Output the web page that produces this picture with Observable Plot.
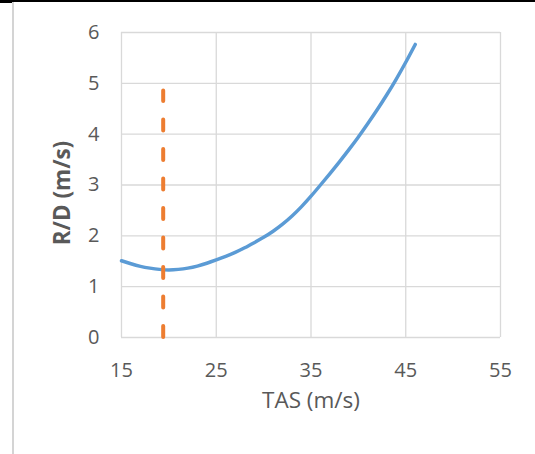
<!DOCTYPE html>
<html>
<head>
<meta charset="utf-8">
<script src="https://cdn.jsdelivr.net/npm/d3@7"></script>
<script src="https://cdn.jsdelivr.net/npm/@observablehq/plot@0.6"></script>
<style>
  html, body { margin: 0; padding: 0; background: #fff; }
  #wrap { position: relative; width: 535px; height: 454px; overflow: hidden; }
  #topline { position: absolute; left: 0; top: 0; width: 535px; height: 2px; background: #000; }
  #topcorner { position: absolute; left: 0; top: 0; width: 12px; height: 3px; background: #000; }
  #leftline { position: absolute; left: 12px; top: 2px; width: 2px; height: 452px; background: #d4d4d4; }
  #chart { position: absolute; left: 0; top: 0; }
</style>
</head>
<body>
<div id="wrap">
  <div id="chart"></div>
  <div id="topline"></div>
  <div id="topcorner"></div>
  <div id="leftline"></div>
</div>
<script>
// True airspeed (m/s) and rate of descent (m/s)
const tas = [15, 16, 17, 18, 19, 20, 21, 22, 23, 24, 25, 26, 27, 28, 29, 30,
             31, 32, 33, 34, 35, 36, 37, 38, 39, 40, 41, 42, 43, 44, 45, 46];
const rd  = [1.51, 1.45, 1.40, 1.365, 1.34, 1.33, 1.34, 1.365, 1.405, 1.46, 1.525, 1.595, 1.675, 1.765, 1.865, 1.97,
             2.09, 2.23, 2.39, 2.575, 2.78, 3.00, 3.225, 3.455, 3.695, 3.945, 4.21, 4.485, 4.775, 5.085, 5.415, 5.765];
// Minimum-sink speed marker
const markerTAS = [19.4];
const markerTop = [4.85];
const xTicks = [15, 25, 35, 45, 55];
const yTicks = [0, 1, 2, 3, 4, 5, 6];
const xLabel = "TAS (m/s)";
const yLabel = "R/D (m/s)";

const data = tas.map((v, i) => ({tas: v, rd: rd[i]}));
const marker = markerTAS.map((v, i) => ({tas: v, top: markerTop[i]}));

const textColor = "#595959";
const gridColor = "#d9d9d9";

const chart = Plot.plot({
  width: 535,
  height: 454,
  marginLeft: 121,
  marginRight: 35,
  marginTop: 32,
  marginBottom: 117,
  style: {fontFamily: "'Open Sans', sans-serif", background: "transparent", overflow: "visible"},
  x: {domain: [15, 55], ticks: xTicks},
  y: {domain: [0, 6], ticks: yTicks},
  marks: [
    Plot.gridX(xTicks, {stroke: gridColor, strokeOpacity: 1, strokeWidth: 1.3}),
    Plot.gridY(yTicks, {stroke: gridColor, strokeOpacity: 1, strokeWidth: 1.3}),
    Plot.axisX(xTicks, {tickSize: 0, tickPadding: 25, fontSize: 20, fill: textColor,
      tickFormat: d3.format("d"), label: null}),
    Plot.axisY(yTicks, {tickSize: 0, tickPadding: 22, fontSize: 20, fill: textColor,
      tickFormat: d3.format("d"), label: null}),
    Plot.text([xLabel], {frameAnchor: "bottom", dy: 70, fontSize: 22.5, fill: textColor, text: d => d}),
    Plot.text([yLabel], {frameAnchor: "left", textAnchor: "middle", dx: -59, dy: 8, rotate: -90,
      fontSize: 22.5, fontWeight: "bold", fill: textColor, text: d => d}),
    Plot.line(data, {x: "tas", y: "rd", stroke: "#5B9BD5", strokeWidth: 3.5, curve: "natural", strokeLinecap: "round"}),
    Plot.ruleX(marker, {x: "tas", y1: 0, y2: "top", stroke: "#ED7D31", strokeWidth: 4,
      strokeDasharray: "11,18.5", strokeLinecap: "round"})
  ]
});
document.getElementById("chart").appendChild(chart);
</script>
</body>
</html>
